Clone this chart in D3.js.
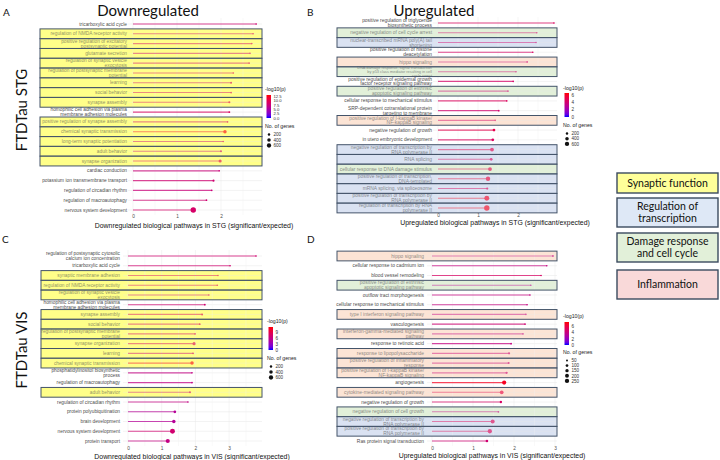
<!DOCTYPE html>
<html><head><meta charset="utf-8">
<script src="https://cdn.jsdelivr.net/npm/d3@7"></script>
<style>body{margin:0;background:#fff}svg{display:block}</style>
</head><body><svg id="c" width="720" height="460"></svg>
<script>
// ---------- DATA ----------
const aLabels = ["tricarboxylic acid cycle","regulation of NMDA receptor activity","positive regulation of excitatory\npostsynaptic potential","glutamate secretion","regulation of synaptic vesicle\nexocytosis","regulation of postsynaptic membrane\npotential","learning","social behavior","synapse assembly","homophilic cell adhesion via plasma\nmembrane adhesion molecules","positive regulation of synapse assembly","chemical synaptic transmission","long-term synaptic potentiation","adult behavior","synapse organization","cardiac conduction","potassium ion transmembrane transport","regulation of circadian rhythm","regulation of macroautophagy","nervous system development"];
const aValues = [2.80,2.73,2.70,2.66,2.64,2.28,2.23,2.23,2.19,2.19,2.15,2.09,2.05,2.00,1.98,1.96,1.83,1.79,1.67,1.37];
const aLogP   = [8,9,9,8,9,10,9,9,10,9,9,12.8,8,8,10,7.5,8,7.5,8,8.5];
const aGenes  = [25,30,25,20,40,50,80,60,90,70,50,250,40,80,200,40,90,50,60,600];
const aGroups = ["","S","S","S","S","S","S","S","S","","S","S","S","S","S","","","","",""];

const bLabels = ["positive regulation of triglyceride\nbiosynthetic process","negative regulation of cell cycle arrest","nuclear-transcribed mRNA poly(A) tail\nshortening","positive regulation of histone\ndeacetylation","hippo signaling","DNA damage response, signal transduction\nby p53 class mediator resulting in cell\ncycle arrest","positive regulation of epidermal growth\nfactor receptor signaling pathway","positive regulation of extrinsic\napoptotic signaling pathway","cellular response to mechanical stimulus","SRP-dependent cotranslational protein\ntargeting to membrane","positive regulation of I-kappaB kinase/\nNF-kappaB signaling","negative regulation of growth","in utero embryonic development","negative regulation of transcription by\nRNA polymerase II","RNA splicing","cellular response to DNA damage stimulus","positive regulation of transcription,\nDNA-templated","mRNA splicing, via spliceosome","positive regulation of transcription by\nRNA polymerase II","regulation of transcription by RNA\npolymerase II"];
const bValues = [2.90,2.47,2.45,2.37,2.23,1.95,1.88,1.75,1.72,1.52,1.43,1.40,1.37,1.35,1.33,1.30,1.25,1.23,1.22,1.22];
const bLogP   = [4.5,4.2,4.0,4.3,4.0,4.0,4.2,4.0,4.5,4.0,4.3,5.0,4.5,5.0,4.5,5.0,5.5,4.5,6.0,6.2];
const bGenes  = [30,20,20,20,60,30,30,40,50,60,50,150,150,300,150,300,400,100,500,600];
const bGroups = ["","D","T","","I","D","","D","","","I","","","T","T","D","T","T","T","T"];

const cLabels = ["regulation of postsynaptic cytosolic\ncalcium ion concentration","tricarboxylic acid cycle","synaptic membrane adhesion","regulation of NMDA receptor activity","regulation of synaptic vesicle\nexocytosis","homophilic cell adhesion via plasma\nmembrane adhesion molecules","synapse assembly","social behavior","regulation of postsynaptic membrane\npotential","synapse organization","learning","chemical synaptic transmission","phosphatidylinositol biosynthetic\nprocess","regulation of macroautophagy","adult behavior","regulation of circadian rhythm","protein polyubiquitination","brain development","nervous system development","protein transport"];
const cValues = [3.80,3.03,2.67,2.65,2.40,2.28,2.20,2.13,1.99,1.96,1.93,1.90,1.90,1.90,1.84,1.78,1.39,1.36,1.32,1.18];
const cLogP   = [7,7,8,8,7,7,8,8,8,8,7,11,6,6,7,6,5,5,7,6];
const cGenes  = [30,20,40,20,30,70,80,60,50,200,80,250,30,60,80,50,150,250,500,350];
const cGroups = ["","","S","S","S","","S","S","S","S","S","S","","","S","","","","",""];

const dLabels = ["hippo signaling","cellular response to cadmium ion","blood vessel remodeling","positive regulation of extrinsic\napoptotic signaling pathway","outflow tract morphogenesis","cellular response to mechanical stimulus","type I interferon signaling pathway","vasculogenesis","interferon-gamma-mediated signaling\npathway","response to retinoic acid","response to lipopolysaccharide","positive regulation of inflammatory\nresponse","positive regulation of I-kappaB kinase/\nNF-kappaB signaling","angiogenesis","cytokine-mediated signaling pathway","negative regulation of growth","negative regulation of cell growth","negative regulation of transcription by\nRNA polymerase II","positive regulation of transcription by\nRNA polymerase II","Ras protein signal transduction"];
const dValues = [2.95,2.80,2.66,2.41,2.39,2.32,2.29,2.27,2.22,1.93,1.88,1.87,1.82,1.76,1.70,1.68,1.62,1.48,1.41,1.34];
const dLogP   = [4,4,5,3.5,4,4,4,4.5,4,4,4.5,4.5,4.5,7,6,5,4,5.5,5.5,4.5];
const dGenes  = [30,10,15,20,15,20,15,20,20,25,40,35,45,150,120,50,25,140,160,60];
const dGroups = ["I","","","D","","","I","","I","","I","I","I","","I","","D","T","T",""];

const xTicks = [0,1,2,3];
const pTicksA = [0,2.5,5,7.5,10,12.5];
const pTicksB = [0,2,4,6];
const pTicksC = [0,3,6,9];
const pTicksD = [0,2,4,6];
const sizeBreaks = [200,400,600];
const sizeBreaksD = [50,100,150,200,250];
const legendCats = [["S","Synaptic function"],["T","Regulation of\ntranscription"],["D","Damage response\nand cell cycle"],["I","Inflammation"]];

// ---------- DRAW ----------
const svg = d3.select("#c");
const groupFill = {S:"#FFFF8A", T:"#DAE3F3", D:"#E2F0D9", I:"#FCE4D6"};
const legendFill = {S:"#FFFF99", T:"#DEE8F6", D:"#E2F0D9", I:"#F9D9D9"};
const edge = "#44546A";
const lab = "Liberation Sans, Arial, sans-serif";

function drawPanel(c){
  const g = svg.append("g");
  const xMax = (c.right - c.x0)/c.unit;
  const x = d3.scaleLinear().domain([0,xMax]).range([c.x0,c.right]);
  const y = d3.scalePoint().domain(c.labels).range([c.yTop,c.yBot]);
  const col = d3.scaleLinear().domain([0,c.pMax]).range(["blue","red"]).interpolate(d3.interpolateLab);
  const r = d3.scaleSqrt().domain([0,c.sMax]).range([0,2.7]);
  const gl = c.x0 - 5;
  const step = y.step();
  const rows = c.labels.map((l,i)=>({l,v:c.values[i],p:c.logp[i],n:c.genes[i],grp:c.groups[i]}));
  const boxed = rows.filter(d=>d.grp);
  g.selectAll(".ubox").data(boxed).join("rect")
    .attr("x",c.boxL).attr("width",c.right - c.boxL)
    .attr("y",d=>y(d.l)-step/2).attr("height",step)
    .attr("fill",d=>groupFill[d.grp]);
  g.selectAll(".hg").data(c.labels).join("line")
    .attr("x1",gl).attr("x2",c.right).attr("y1",d=>y(d)).attr("y2",d=>y(d))
    .attr("stroke","#e6e6e6").attr("stroke-width",0.5);
  const vt = d3.range(0, xMax, 0.5);
  g.selectAll(".vg").data(vt).join("line")
    .attr("x1",d=>x(d)).attr("x2",d=>x(d)).attr("y1",c.yTop-6).attr("y2",c.yBot+5)
    .attr("stroke",d=>d%1===0?"#e8e8e8":"#f2f2f2").attr("stroke-width",0.5);
  g.selectAll(".seg").data(rows).join("line")
    .attr("x1",x(0)).attr("x2",d=>x(d.v)).attr("y1",d=>y(d.l)).attr("y2",d=>y(d.l))
    .attr("stroke",d=>col(d.p)).attr("stroke-width",1.1).attr("stroke-opacity",0.72);
  g.selectAll(".dot").data(rows).join("circle")
    .attr("cx",d=>x(d.v)).attr("cy",d=>y(d.l)).attr("r",d=>Math.max(0.8,r(d.n)))
    .attr("fill",d=>col(d.p));
  rows.forEach(d=>{
    const parts = d.l.split("\n");
    const three = parts.length>2;
    const lh = three ? 3.7 : 4.9;
    const t = g.append("text").attr("text-anchor","end").attr("font-family",lab)
      .attr("font-size",three ? 3.9 : c.fs).attr("fill","#4d4d4d");
    parts.forEach((p,k)=>{
      t.append("tspan").attr("x",c.labelX).attr("y",y(d.l)+(k-(parts.length-1)/2)*lh+(three?1.3:1.6)).text(p);
    });
  });
  const ax = g.append("g").attr("transform",`translate(0,${c.tickY})`)
    .call(d3.axisBottom(x).tickValues(xTicks.filter(t=>t<=xMax)).tickSize(0).tickPadding(0).tickFormat(d3.format("d")));
  ax.select(".domain").remove();
  ax.selectAll("text").attr("font-size",4.8).attr("fill","#4d4d4d").attr("font-family",lab);
  g.append("text").attr("x",c.titleX).attr("y",c.titleY).attr("text-anchor","middle")
    .attr("font-family",lab).attr("font-size",6.9).attr("fill","#111").text(c.axisTitle);
  g.selectAll(".box").data(boxed).join("rect")
    .attr("x",c.boxL).attr("width",c.right - c.boxL)
    .attr("y",d=>y(d.l)-step/2).attr("height",step)
    .attr("fill",d=>groupFill[d.grp]).attr("fill-opacity",0.38)
    .attr("stroke",edge).attr("stroke-width",1);
  const L = g.append("g");
  L.append("text").attr("x",c.lx).attr("y",c.ly).attr("font-family",lab).attr("font-size",5.2).attr("fill","#222").text("-log10(p)");
  const gid = "grad"+c.id;
  const grad = svg.append("defs").append("linearGradient").attr("id",gid).attr("x1",0).attr("x2",0).attr("y1",1).attr("y2",0);
  d3.range(0,1.01,0.1).forEach(t=>grad.append("stop").attr("offset",t).attr("stop-color",col(t*c.pMax)));
  const by = d3.scaleLinear().domain([0,c.pMax]).range([c.barB,c.barT]);
  L.append("rect").attr("x",c.lx+1.5).attr("y",c.barT).attr("width",4.5).attr("height",c.barB-c.barT).attr("fill",`url(#${gid})`);
  L.selectAll(".pt").data(c.pTicks).join("text").attr("x",c.lx+8.5).attr("y",d=>by(d)+1.7)
    .attr("font-family",lab).attr("font-size",c.ptfs).attr("fill","#333").text(d=>c.pFmt(d));
  L.append("text").attr("x",c.lx).attr("y",c.sy).attr("font-family",lab).attr("font-size",5.2).attr("fill","#222").text("No. of genes");
  L.selectAll(".sd").data(c.sBreaks).join("circle").attr("cx",c.lx+4).attr("cy",(d,i)=>c.sy+6.5+i*c.sStep)
    .attr("r",d=>r(d)*0.8).attr("fill","#111");
  L.selectAll(".st").data(c.sBreaks).join("text").attr("x",c.lx+8.5).attr("y",(d,i)=>c.sy+8.2+i*c.sStep)
    .attr("font-family",lab).attr("font-size",4.6).attr("fill","#333").text(d=>d);
}

drawPanel({id:"A",labels:aLabels,values:aValues,logp:aLogP,genes:aGenes,groups:aGroups,
  x0:133,unit:44,right:262,yTop:24,yBot:210,labelX:127,fs:4.8,boxL:40,tickY:215,
  titleX:194,titleY:228,axisTitle:"Downregulated biological pathways in STG (significant/expected)",
  pMax:13.2,sMax:600,lx:265,ly:91,barT:95,barB:118,pTicks:pTicksA,pFmt:d3.format(".1f"),ptfs:4.2,
  sy:128,sBreaks:sizeBreaks,sStep:5.5});
drawPanel({id:"B",labels:bLabels,values:bValues,logp:bLogP,genes:bGenes,groups:bGroups,
  x0:438,unit:40,right:557,yTop:23,yBot:208,labelX:432,fs:4.9,boxL:337,tickY:214,
  titleX:495,titleY:225,axisTitle:"Upregulated biological pathways in STG (significant/expected)",
  pMax:6.5,sMax:600,lx:563,ly:90,barT:93,barB:117,pTicks:pTicksB,pFmt:d3.format("d"),ptfs:4.6,
  sy:127,sBreaks:sizeBreaks,sStep:5.2});
drawPanel({id:"C",labels:cLabels,values:cValues,logp:cLogP,genes:cGenes,groups:cGroups,
  x0:128,unit:33.7,right:262,yTop:256,yBot:441,labelX:120,fs:4.8,boxL:41,tickY:447,
  titleX:192,titleY:459,axisTitle:"Downregulated biological pathways in VIS (significant/expected)",
  pMax:11.5,sMax:600,lx:267,ly:323,barT:327,barB:350,pTicks:pTicksC,pFmt:d3.format("d"),ptfs:4.6,
  sy:360,sBreaks:sizeBreaks,sStep:5.5});
drawPanel({id:"D",labels:dLabels,values:dValues,logp:dLogP,genes:dGenes,groups:dGroups,
  x0:432,unit:41,right:557,yTop:256,yBot:441,labelX:424,fs:4.9,boxL:337,tickY:447,
  titleX:492,titleY:458,axisTitle:"Upregulated biological pathways in VIS (significant/expected)",
  pMax:7.5,sMax:250,lx:563,ly:318,barT:322,barB:345,pTicks:pTicksD,pFmt:d3.format("d"),ptfs:4.6,
  sy:354,sBreaks:sizeBreaksD,sStep:5.1});

const hf = "Lato, 'Open Sans', sans-serif";
svg.append("text").attr("x",148).attr("y",16).attr("text-anchor","middle").attr("font-family",hf).attr("font-size",15).attr("fill","#111").text("Downregulated");
svg.append("text").attr("x",434).attr("y",16).attr("text-anchor","middle").attr("font-family",hf).attr("font-size",15).attr("fill","#111").text("Upregulated");
[["A",3,16],["B",307,16],["C",2,243],["D",307,243]].forEach(([t,x,y])=>
  svg.append("text").attr("x",x).attr("y",y).attr("font-family",hf).attr("font-size",10).attr("fill","#111").text(t));
[["FTDTau STG",110],["FTDTau VIS",350]].forEach(([t,cy])=>
  svg.append("text").attr("transform",`translate(27,${cy}) rotate(-90)`).attr("text-anchor","middle")
    .attr("font-family",hf).attr("font-size",15).attr("fill","#111").text(t));

const boxes = [[173,193],[198,227],[233,262],[270,299]];
legendCats.forEach(([k,t],i)=>{
  const [y0,y1] = boxes[i];
  svg.append("rect").attr("x",617).attr("y",y0).attr("width",101).attr("height",y1-y0)
    .attr("fill",legendFill[k]).attr("stroke","#3B4A5E").attr("stroke-width",1.4);
  const parts = t.split("\n");
  const tx = svg.append("text").attr("text-anchor","middle").attr("font-family",hf).attr("font-size",10.5).attr("fill","#111");
  parts.forEach((p,j)=>tx.append("tspan").attr("x",667.5).attr("y",(y0+y1)/2+(j-(parts.length-1)/2)*12.5+3.7).text(p));
});
</script></body></html>
